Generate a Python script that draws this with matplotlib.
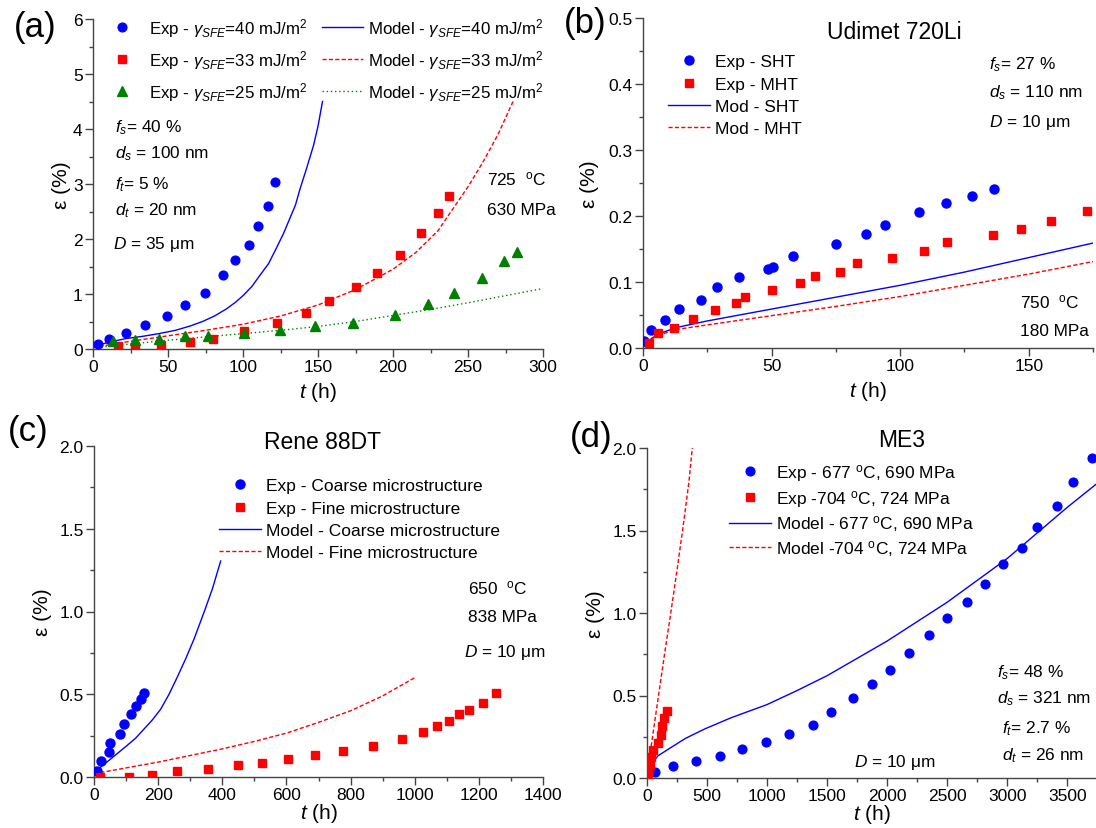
import numpy as np
import matplotlib.pyplot as plt
from matplotlib.ticker import MultipleLocator, FormatStrFormatter
from matplotlib.legend import Legend

plt.rcParams['font.family'] = ['Liberation Sans', 'DejaVu Sans']
plt.rcParams['mathtext.fontset'] = 'custom'
plt.rcParams['mathtext.rm'] = 'Liberation Sans'
plt.rcParams['mathtext.it'] = 'Liberation Sans:italic'
plt.rcParams['mathtext.bf'] = 'Liberation Sans:bold'

W, H = 1096, 829
BLUE, RED, GREEN = '#0000ff', '#ff0000', '#008000'

# ---- (a) 725 C / 630 MPa, three stacking fault energies
a_exp40_t = [3.2, 10.6, 21.8, 34.8, 49.0, 61.2, 74.7, 86.6, 94.9, 103.9, 109.8, 116.5, 121.1]
a_exp40_y = [0.09, 0.18, 0.29, 0.44, 0.60, 0.80, 1.02, 1.34, 1.62, 1.90, 2.23, 2.60, 3.04]
a_exp33_t = [16.7, 28.1, 45.6, 64.9, 79.9, 100.4, 122.6, 141.9, 157.6, 175.1, 189.1, 204.6, 218.5, 230.1, 237.1]
a_exp33_y = [0.05, 0.03, 0.08, 0.13, 0.19, 0.32, 0.47, 0.66, 0.87, 1.12, 1.38, 1.71, 2.11, 2.47, 2.78]
a_exp25_t = [13.4, 28.1, 43.9, 61.1, 76.6, 100.4, 124.5, 148.1, 173.1, 201.5, 223.2, 240.6, 259.0, 274.3, 282.6]
a_exp25_y = [0.14, 0.16, 0.18, 0.24, 0.24, 0.30, 0.34, 0.42, 0.47, 0.62, 0.81, 1.01, 1.30, 1.60, 1.76]
a_mod40_t = [0, 5, 10, 22, 33, 44, 55, 65, 73, 81, 89, 95, 100, 106, 111, 117, 122, 127, 131, 135, 138, 142, 147, 150, 153]
a_mod40_y = [0.02, 0.08, 0.12, 0.19, 0.23, 0.28, 0.34, 0.42, 0.50, 0.60, 0.73, 0.85, 0.97, 1.14, 1.33, 1.55,
             1.82, 2.10, 2.36, 2.62, 2.91, 3.25, 3.70, 4.05, 4.50]
a_mod33_t = [0, 25, 50, 75, 100, 125, 150, 175, 200, 215, 230, 240, 250, 260, 270, 280]
a_mod33_y = [0.03, 0.14, 0.24, 0.34, 0.45, 0.60, 0.80, 1.08, 1.45, 1.75, 2.15, 2.55, 2.95, 3.40, 3.90, 4.50]
a_mod25_t = [0, 25, 50, 75, 100, 125, 150, 175, 200, 225, 250, 275, 300]
a_mod25_y = [0.02, 0.09, 0.16, 0.22, 0.28, 0.34, 0.41, 0.50, 0.61, 0.72, 0.84, 0.97, 1.10]

# ---- (b) Udimet 720Li
b_sht_t = [0.5, 3.0, 8.7, 14.1, 22.5, 28.9, 37.5, 48.6, 50.5, 58.5, 75.1, 86.7, 94.2, 107.3, 118.0, 127.8, 136.6]
b_sht_y = [0.010, 0.027, 0.042, 0.059, 0.073, 0.092, 0.108, 0.120, 0.123, 0.140, 0.158, 0.173, 0.186,
           0.206, 0.220, 0.230, 0.241]
b_mht_t = [2.3, 5.7, 11.9, 19.4, 27.9, 36.3, 39.7, 50.1, 61.0, 66.7, 76.7, 83.3, 97.0, 109.2, 118.3,
           136.0, 147.0, 158.8, 172.5]
b_mht_y = [0.008, 0.022, 0.031, 0.044, 0.058, 0.068, 0.078, 0.088, 0.099, 0.109, 0.115, 0.129, 0.136,
           0.147, 0.161, 0.171, 0.180, 0.192, 0.207]
b_mod_t = [0, 1.3, 3.5, 6.5, 13, 25, 50, 75, 100, 125, 150, 175]
b_modsht_y = [0.001, 0.006, 0.015, 0.022, 0.031, 0.041, 0.059, 0.077, 0.095, 0.115, 0.137, 0.159]
b_modmht_y = [0.001, 0.008, 0.014, 0.020, 0.028, 0.035, 0.049, 0.063, 0.078, 0.095, 0.112, 0.131]

# ---- (c) Rene 88DT
c_coarse_t = [8, 21, 46, 50, 81, 94, 115, 132, 146, 156]
c_coarse_y = [0.038, 0.099, 0.153, 0.206, 0.257, 0.321, 0.380, 0.432, 0.470, 0.510]
c_fine_t = [19, 109, 182, 260, 356, 450, 525, 605, 689, 776, 870, 959, 1027, 1071, 1108, 1138, 1168, 1212, 1254]
c_fine_y = [0.0, 0.0, 0.011, 0.036, 0.048, 0.072, 0.086, 0.108, 0.130, 0.157, 0.187, 0.227, 0.270,
            0.311, 0.341, 0.378, 0.404, 0.448, 0.507]
c_modc_t = [0, 8, 52, 104, 130, 156, 182, 208, 234, 260, 286, 312, 343, 369, 395]
c_modc_y = [0.02, 0.04, 0.109, 0.192, 0.235, 0.29, 0.345, 0.41, 0.50, 0.605, 0.715, 0.834, 0.995, 1.136, 1.305]
c_modf_t = [0, 100, 200, 300, 400, 500, 600, 700, 800, 900, 1000]
c_modf_y = [0.02, 0.055, 0.09, 0.13, 0.17, 0.215, 0.265, 0.33, 0.40, 0.49, 0.60]

# ---- (d) ME3
d_exp677_t = [64, 220, 410, 612, 792, 990, 1184, 1382, 1536, 1716, 1873, 2022, 2185, 2350, 2501, 2664,
              2813, 2964, 3121, 3246, 3412, 3545, 3706]
d_exp677_y = [0.038, 0.071, 0.101, 0.136, 0.173, 0.218, 0.269, 0.324, 0.397, 0.482, 0.571, 0.654, 0.757,
              0.866, 0.970, 1.065, 1.176, 1.298, 1.393, 1.524, 1.650, 1.792, 1.941]
d_exp704_t = [8, 22, 31, 47, 94, 119, 128, 144, 167]
d_exp704_y = [0.024, 0.079, 0.125, 0.172, 0.212, 0.262, 0.313, 0.361, 0.404]
d_mod677_t = [0, 10, 36, 92, 200, 320, 480, 700, 1000, 1250, 1500, 2000, 2500, 3000, 3500, 3740]
d_mod677_y = [0.0, 0.05, 0.085, 0.135, 0.185, 0.24, 0.297, 0.365, 0.445, 0.53, 0.62, 0.83, 1.065, 1.33, 1.64, 1.78]
d_mod704_t = [0, 20, 50, 100, 150, 200, 250, 300, 350, 377]
d_mod704_y = [0.0, 0.12, 0.27, 0.52, 0.77, 1.01, 1.26, 1.52, 1.80, 2.0]

TICK_FS, LEG_FS, ANN_FS, LAB_FS = 12.5, 12.5, 12.4, 15

fig = plt.figure(figsize=(W / 100, H / 100), dpi=100)


def px_axes(x0, y0, x1, y1):
    return fig.add_axes([x0 / W, 1 - y1 / H, (x1 - x0) / W, (y1 - y0) / H])


def style(ax, xmax, xmaj, xmin, ymax, ymaj, ymin, yfmt, ylab_x, xlab_y):
    ax.set_xlim(0, xmax)
    ax.set_ylim(0, ymax)
    for s in ['top', 'right']:
        ax.spines[s].set_visible(False)
    for s in ['left', 'bottom']:
        ax.spines[s].set_color('#444444')
        ax.spines[s].set_linewidth(1.0)
    ax.xaxis.set_major_locator(MultipleLocator(xmaj))
    ax.xaxis.set_minor_locator(MultipleLocator(xmin))
    ax.yaxis.set_major_locator(MultipleLocator(ymaj))
    ax.yaxis.set_minor_locator(MultipleLocator(ymin))
    if yfmt:
        ax.yaxis.set_major_formatter(FormatStrFormatter(yfmt))
    ax.tick_params(which='both', direction='out', color='#444444', labelcolor='black',
                   labelsize=TICK_FS, width=1.0, pad=2)
    ax.tick_params(which='major', length=5.5)
    ax.tick_params(which='minor', length=3)
    ax.set_ylabel('ε (%)', fontsize=LAB_FS)
    ax.set_xlabel('$t$ (h)', fontsize=LAB_FS)
    ax.yaxis.set_label_coords(ylab_x, 0.5)
    ax.xaxis.set_label_coords(0.5, xlab_y)


def ftext(x, y, s, **kw):
    kw.setdefault('fontsize', ANN_FS)
    kw.setdefault('va', 'baseline')
    fig.text(x / W, 1 - y / H, s, **kw)


def legend_at(ax, handles, labels, x, y, pad=0.3, fs=LEG_FS, **kw):
    leg = Legend(ax, handles, labels, loc='upper left', bbox_to_anchor=(x / W, 1 - y / H),
                 bbox_transform=fig.transFigure, frameon=False, fontsize=fs,
                 borderpad=0, borderaxespad=0, handlelength=2.4, handletextpad=pad,
                 numpoints=1, **kw)
    ax.add_artist(leg)
    return leg


mk = dict(linestyle='none', zorder=3)

# ---------------- (a)
ax = px_axes(93, 20, 543, 350)
l1, = ax.plot(a_mod40_t, a_mod40_y, color=BLUE, lw=1.0)
l2, = ax.plot(a_mod33_t, a_mod33_y, color=RED, lw=1.0, dashes=(3, 1.6))
l3, = ax.plot(a_mod25_t, a_mod25_y, color=GREEN, lw=1.0, dashes=(1, 2))
m1, = ax.plot(a_exp40_t, a_exp40_y, 'o', color=BLUE, ms=6.3, **mk)
m2, = ax.plot(a_exp33_t, a_exp33_y, 's', color=RED, ms=5.3, **mk)
m3, = ax.plot(a_exp25_t, a_exp25_y, '^', color=GREEN, ms=7, **mk)
style(ax, 300, 50, 25, 6, 1, 0.5, None, -0.049, -0.095)
g = r'$\gamma_{SFE}$'
legend_at(ax, [m1, m2, m3],
          ['Exp - ' + g + '=40 mJ/m$^2$', 'Exp - ' + g + '=33 mJ/m$^2$', 'Exp - ' + g + '=25 mJ/m$^2$'],
          102, 17, pad=0.35, fs=12.2, labelspacing=0.54)
legend_at(ax, [l1, l2, l3],
          ['Model - ' + g + '=40 mJ/m$^2$', 'Model - ' + g + '=33 mJ/m$^2$', 'Model - ' + g + '=25 mJ/m$^2$'],
          322, 17, fs=12.2, labelspacing=0.54)
ftext(115, 132, '$f_s$= 40 %')
ftext(115, 158, '$d_s$ = 100 nm')
ftext(115, 189, '$f_t$= 5 %')
ftext(115, 215, '$d_t$ = 20 nm')
ftext(113, 249, '$D$ = 35 μm')
ftext(487, 185, r'725  $^{\rm o}$C')
ftext(487, 215, '630 MPa')

# ---------------- (b)
ax = px_axes(643, 19, 1093, 349)
l1, = ax.plot(b_mod_t, b_modsht_y, color=BLUE, lw=1.0)
l2, = ax.plot(b_mod_t, b_modmht_y, color=RED, lw=1.0, dashes=(3, 1.6))
m1, = ax.plot(b_sht_t, b_sht_y, 'o', color=BLUE, ms=6.5, **mk)
m2, = ax.plot(b_mht_t, b_mht_y, 's', color=RED, ms=5.3, **mk)
style(ax, 175, 50, 25, 0.5, 0.1, 0.05, '%.1f', -0.098, -0.095)
legend_at(ax, [m1, m2, l1, l2], ['Exp - SHT', 'Exp - MHT', 'Mod - SHT', 'Mod - MHT'],
          668, 55, labelspacing=0.42)
ax.text(0.559, 0.96, 'Udimet 720Li', transform=ax.transAxes, fontsize=16.5, ha='center', va='center')
ftext(989, 69.5, '$f_s$= 27 %')
ftext(989, 97, '$d_s$ = 110 nm')
ftext(989, 127.5, '$D$ = 10 μm')
ftext(1020, 308, r'750  $^{\rm o}$C')
ftext(1020, 336, '180 MPa')

# ---------------- (c)
ax = px_axes(94, 447, 543, 778)
l1, = ax.plot(c_modc_t, c_modc_y, color=BLUE, lw=1.0)
l2, = ax.plot(c_modf_t, c_modf_y, color=RED, lw=1.0, dashes=(3, 1.6))
m1, = ax.plot(c_coarse_t, c_coarse_y, 'o', color=BLUE, ms=6.5, **mk)
m2, = ax.plot(c_fine_t, c_fine_y, 's', color=RED, ms=5.3, **mk)
style(ax, 1400, 200, 100, 2.0, 0.5, 0.25, '%.1f', -0.094, -0.074)
legend_at(ax, [m1, m2, l1, l2],
          ['Exp - Coarse microstructure', 'Exp - Fine microstructure',
           'Model - Coarse microstructure', 'Model - Fine microstructure'],
          219, 479, labelspacing=0.42)
ax.text(0.51, 1.015, 'Rene 88DT', transform=ax.transAxes, fontsize=16.5, ha='center', va='center')
ftext(468, 594, r'650  $^{\rm o}$C')
ftext(468, 622, '838 MPa')
ftext(464, 657.5, '$D$ = 10 μm')

# ---------------- (d)
ax = px_axes(647, 449, 1096, 779)
l1, = ax.plot(d_mod677_t, d_mod677_y, color=BLUE, lw=1.0)
l2, = ax.plot(d_mod704_t, d_mod704_y, color=RED, lw=1.0, dashes=(3, 1.6))
m1, = ax.plot(d_exp677_t, d_exp677_y, 'o', color=BLUE, ms=6.3, **mk)
m2, = ax.plot(d_exp704_t, d_exp704_y, 's', color=RED, ms=5.8, **mk)
style(ax, 3740, 500, 250, 2.0, 0.5, 0.25, '%.1f', -0.094, -0.074)
legend_at(ax, [m1, m2, l1, l2],
          [r'Exp - 677 $^{\rm o}$C, 690 MPa', r'Exp -704 $^{\rm o}$C, 724 MPa',
           r'Model - 677 $^{\rm o}$C, 690 MPa', r'Model -704 $^{\rm o}$C, 724 MPa'],
          729, 463, labelspacing=0.27)
ax.text(0.568, 1.027, 'ME3', transform=ax.transAxes, fontsize=16.5, ha='center', va='center')
ftext(997, 677, '$f_s$= 48 %')
ftext(997, 703, '$d_s$ = 321 nm')
ftext(1002, 733.5, '$f_t$= 2.7 %')
ftext(1002, 760, '$d_t$ = 26 nm')
ftext(854, 767, '$D$ = 10 μm')

# panel letters
for lab, x, y in [('(a)', 35, 27), ('(b)', 585, 23), ('(c)', 28, 432), ('(d)', 591, 437)]:
    fig.text(x / W, 1 - y / H, lab, fontsize=25, ha='center', va='center')

fig.savefig('out.png', dpi=100)
